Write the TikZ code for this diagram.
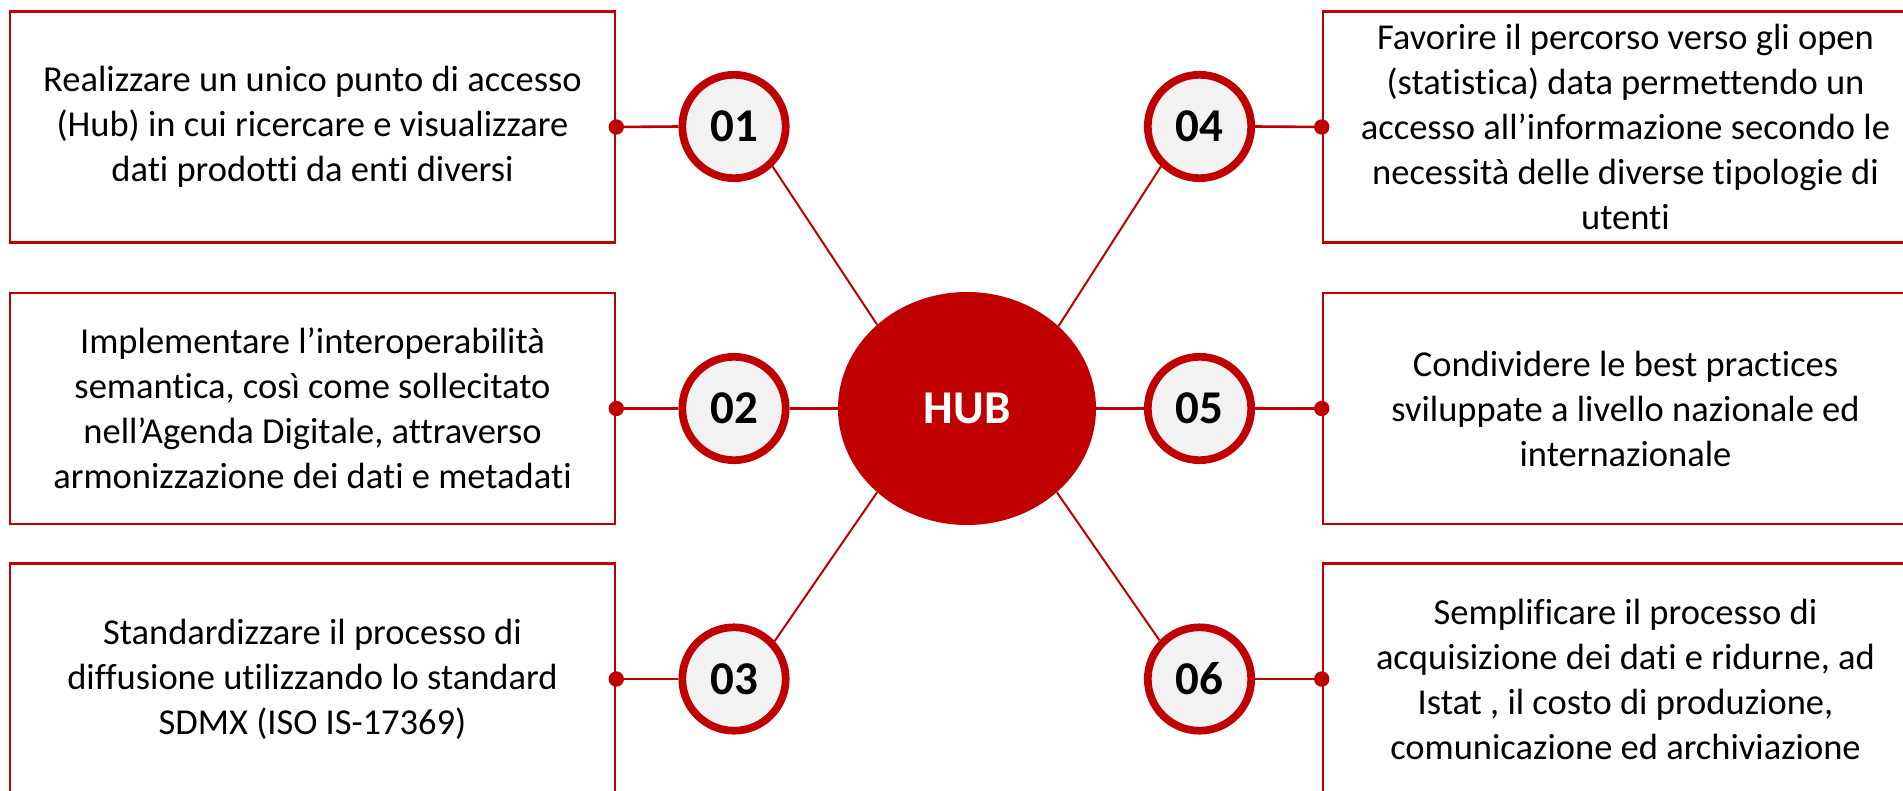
\documentclass[tikz,border=0pt]{standalone}
\usepackage{fontspec}
\setmainfont{Carlito}[Ligatures={NoCommon}]
\usetikzlibrary{shapes.geometric}
\definecolor{hubred}{HTML}{C00000}
\definecolor{numfill}{HTML}{F2F2F2}
\tikzset{
  txtbox/.style={draw=hubred, line width=2.5bp, rectangle, minimum width=605bp, minimum height=231bp,
    inner sep=0pt, align=center, font=\fontsize{36.5bp}{45bp}\selectfont, text=black},
  numcirc/.style={circle, draw=hubred, fill=numfill, line width=7.7bp, minimum size=103.4bp,
    inner sep=0pt, font=\fontsize{47bp}{50bp}\selectfont\bfseries, text=black},
  hubnode/.style={ellipse, fill=hubred, minimum width=258bp, minimum height=233bp, inner sep=0pt,
    font=\fontsize{47bp}{50bp}\selectfont\bfseries, text=white},
  conn/.style={draw=hubred, line width=2.6bp},
  spoke/.style={draw=hubred, line width=2bp},
  enddot/.style={fill=hubred}
}
\begin{document}
\begin{tikzpicture}[x=1bp, y=-1bp]
\useasboundingbox (0,0) rectangle (1903,791);
% text boxes
\node[txtbox] (b1) at (312.5,127) {Realizzare un unico punto di accesso\\(Hub) in cui ricercare e visualizzare\\dati prodotti da enti diversi};
\node[txtbox] (b2) at (312.5,408.5) {Implementare l’interoperabilità\\semantica, così come sollecitato\\nell’Agenda Digitale, attraverso\\armonizzazione dei dati e metadati};
\node[txtbox] (b3) at (312.5,679) {Standardizzare il processo di\\diffusione utilizzando lo standard\\SDMX (ISO IS-17369)};
\node[txtbox] (b4) at (1625.5,127) {Favorire il percorso verso gli open\\(statistica) data permettendo un\\accesso all’informazione secondo le\\necessità delle diverse tipologie di\\utenti};
\node[txtbox] (b5) at (1625.5,408.5) {Condividere le best practices\\sviluppate a livello nazionale ed\\internazionale};
\node[txtbox] (b6) at (1625.5,679) {Semplificare il processo di\\acquisizione dei dati e ridurne, ad\\Istat , il costo di produzione,\\comunicazione ed archiviazione};
% hub
\node[hubnode] (hub) at (967,408.5) {HUB};
% number circles
\node[numcirc] (c1) at (734,126.5) {01};
\node[numcirc] (c2) at (734,408.5) {02};
\node[numcirc] (c3) at (734,679) {03};
\node[numcirc] (c4) at (1199.5,126.5) {04};
\node[numcirc] (c5) at (1199.5,408.5) {05};
\node[numcirc] (c6) at (1199.5,679) {06};
% horizontal connectors
\draw[conn] (b1.east) -- (c1.west);
\draw[conn] (b2.east) -- (c2.west);
\draw[conn] (b3.east) -- (c3.west);
\draw[conn] (c4.east) -- (b4.west);
\draw[conn] (c5.east) -- (b5.west);
\draw[conn] (c6.east) -- (b6.west);
\draw[conn] (c2.east) -- (hub.west);
\draw[conn] (hub.east) -- (c5.west);
% spokes
\draw[spoke] (c1.-46) -- (hub.137);
\draw[spoke] (c3.43) -- (hub.-137);
\draw[spoke] (c4.226) -- (hub.42);
\draw[spoke] (c6.136) -- (hub.-43);
% end dots
\fill[enddot] (b1.east) circle (7.7);
\fill[enddot] (b2.east) circle (7.7);
\fill[enddot] (b3.east) circle (7.7);
\fill[enddot] (b4.west) circle (7.7);
\fill[enddot] (b5.west) circle (7.7);
\fill[enddot] (b6.west) circle (7.7);
\end{tikzpicture}
\end{document}
